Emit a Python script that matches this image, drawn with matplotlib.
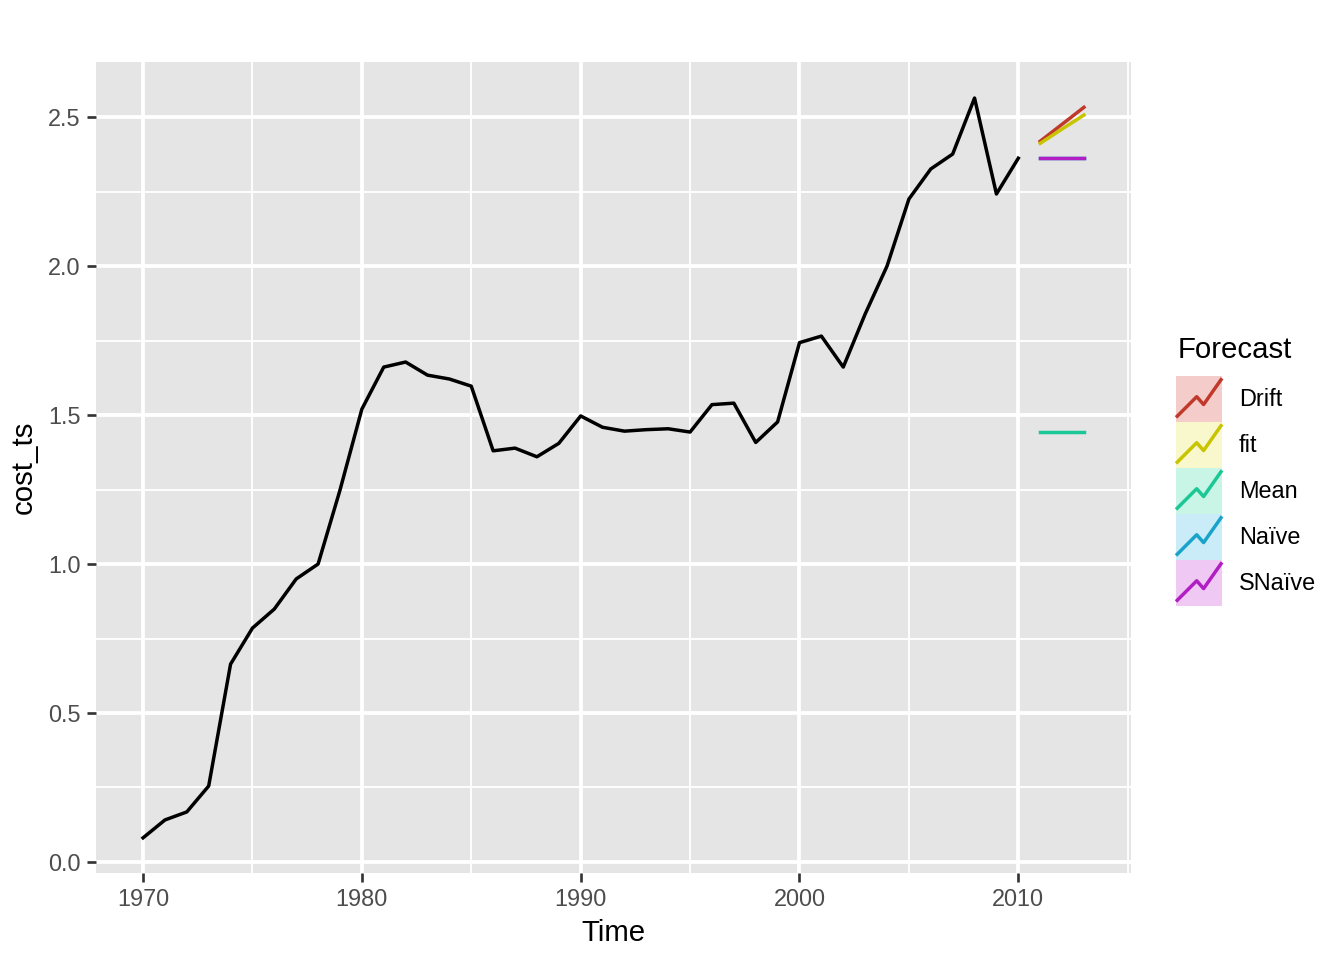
import matplotlib
matplotlib.use("Agg")
import matplotlib.pyplot as plt
from matplotlib.lines import Line2D
from matplotlib.patches import Rectangle
from matplotlib.legend_handler import HandlerBase
import numpy as np

plt.rcParams['font.family'] = ['Liberation Sans', 'DejaVu Sans']

years = list(range(1970, 2011))
cost = [0.081, 0.141, 0.168, 0.255, 0.664, 0.785, 0.849, 0.950, 1.000, 1.248,
        1.520, 1.661, 1.678, 1.634, 1.621, 1.597, 1.380, 1.389, 1.360, 1.405,
        1.497, 1.459, 1.446, 1.451, 1.454, 1.443, 1.535, 1.540, 1.408, 1.477,
        1.743, 1.765, 1.661, 1.839, 2.000, 2.225, 2.326, 2.376, 2.564, 2.242,
        2.362]

fc_years = [2011, 2012, 2013]
fc_drift = [2.419, 2.476, 2.533]
fc_fit = [2.412, 2.460, 2.507]
fc_mean = [1.443, 1.443, 1.443]
fc_naive = [2.362, 2.362, 2.362]
fc_snaive = [2.364, 2.364, 2.364]

labels = ["Drift", "fit", "Mean", "Naïve", "SNaïve"]
colors = ["#C0392B", "#C8C400", "#1CC796", "#1AA3C9", "#B01EC4"]
bgs = ["#F4CCCA", "#F9F8CC", "#C9F5E7", "#C9ECF8", "#EFC9F4"]
series = [fc_drift, fc_fit, fc_mean, fc_naive, fc_snaive]

fig = plt.figure(figsize=(7, 5), dpi=192)
ax = fig.add_axes([96/1344, 1-873/960, (1131-96)/1344, (873-62)/960])
ax.set_facecolor("#E5E5E5")

# grid
for x in [1975, 1985, 1995, 2005, 2015]:
    ax.axvline(x, color="white", lw=0.71, zorder=0.5)
for y in [0.25, 0.75, 1.25, 1.75, 2.25]:
    ax.axhline(y, color="white", lw=0.71, zorder=0.5)
for x in [1970, 1980, 1990, 2000, 2010]:
    ax.axvline(x, color="white", lw=1.42, zorder=0.6)
for y in [0, 0.5, 1.0, 1.5, 2.0, 2.5]:
    ax.axhline(y, color="white", lw=1.42, zorder=0.6)

ax.plot(years, cost, color="black", lw=1.3, zorder=2)
for s, c in zip(series, colors):
    ax.plot(fc_years, s, color=c, lw=1.3, zorder=2)

ax.set_xlim(1967.85, 2015.15)
ax.set_ylim(-0.037, 2.685)
ax.set_xticks([1970, 1980, 1990, 2000, 2010])
ax.set_yticks([0, 0.5, 1.0, 1.5, 2.0, 2.5])
ax.set_yticklabels(["0.0", "0.5", "1.0", "1.5", "2.0", "2.5"])
for sp in ax.spines.values():
    sp.set_visible(False)
ax.tick_params(axis="both", length=3.5, width=1.0, color="#333333",
               labelsize=8.8, labelcolor="#4D4D4D", pad=2.2)
ax.set_xlabel("Time", fontsize=11, color="black", labelpad=3)
ax.set_ylabel("cost_ts", fontsize=11, color="black", labelpad=4)


class KeyHandler(HandlerBase):
    def __init__(self, bg, col):
        super().__init__()
        self.bg = bg
        self.col = col

    def create_artists(self, legend, orig_handle, xdescent, ydescent,
                       width, height, fontsize, trans):
        r = Rectangle((-xdescent, -ydescent), width, height,
                      facecolor=self.bg, edgecolor="none", transform=trans)
        xs = np.array([0, 0.45, 0.6, 1.0]) * width - xdescent
        ys = np.array([0.1, 0.55, 0.38, 0.95]) * height - ydescent
        l = Line2D(xs, ys, color=self.col, lw=1.3, transform=trans,
                   solid_capstyle="butt")
        return [r, l]


handles = [Line2D([], [], color=c) for c in colors]
hmap = {h: KeyHandler(b, c) for h, b, c in zip(handles, bgs, colors)}
fig.text(1178/1344, 1-358/960, "Forecast", fontsize=11, color="black",
         ha="left", va="baseline")
leg = fig.legend(handles, labels, handler_map=hmap,
                 loc="upper left", bbox_to_anchor=(1176/1344, 1-376/960),
                 frameon=False, fontsize=8.8,
                 handlelength=1.96, handleheight=2.64, handletextpad=0.72,
                 labelspacing=0.0, borderaxespad=0, borderpad=0)

fig.savefig("out.png", dpi=192)
